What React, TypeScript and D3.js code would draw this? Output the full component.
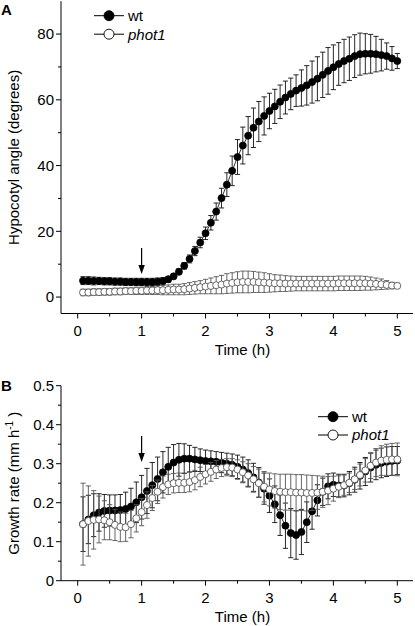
import React from "react";
import * as d3 from "d3";

// sampling times (minutes)
const minutes = [5,10,15,20,25,30,35,40,45,50,55,60,65,70,75,80,85,90,95,100,105,110,115,120,125,130,135,140,145,150,155,160,165,170,175,180,185,190,195,200,205,210,215,220,225,230,235,240,245,250,255,260,265,270,275,280,285,290,295,300];

// Panel A: hypocotyl angle (degrees)
const angleWt = [5.0,5.0,4.9,4.9,4.8,4.8,4.7,4.7,4.6,4.6,4.6,4.6,4.6,4.6,4.7,4.9,5.4,6.3,7.7,9.5,11.6,14.0,16.6,19.4,22.6,26.0,30.1,34.2,38.4,42.6,46.1,49.1,51.5,53.4,55.1,56.6,58.0,59.4,60.7,61.8,62.8,63.6,64.4,65.4,66.4,67.6,68.8,69.9,70.9,71.8,72.5,73.3,73.9,74.0,74.0,73.9,73.6,73.3,72.6,71.8];
const angleWtErr = [1.2,1.2,1.2,1.1,1.1,1.1,1.1,1.1,1.1,1.1,1.1,1.1,1.1,1.1,1.1,1.0,0.9,0.8,0.9,1.0,1.2,1.4,1.6,1.9,2.2,2.6,3.0,3.6,4.5,5.3,5.6,5.8,6.0,6.1,5.8,5.4,5.2,5.1,5.0,4.8,4.8,5.5,6.0,6.4,6.7,6.9,7.1,6.8,6.5,6.6,6.6,6.5,6.4,6.1,5.9,5.4,4.8,4.0,3.6,2.3];
const anglePhot1 = [1.4,1.4,1.5,1.5,1.6,1.6,1.7,1.7,1.8,1.8,1.9,1.9,2.0,2.0,2.1,2.1,2.2,2.3,2.3,2.4,2.6,2.8,3.0,3.2,3.4,3.6,3.8,4.1,4.3,4.5,4.6,4.6,4.6,4.5,4.4,4.3,4.2,4.2,4.1,4.1,4.1,4.1,4.1,4.1,4.1,4.1,4.1,4.1,4.2,4.2,4.2,4.2,4.2,4.2,4.1,4.0,3.9,3.7,3.5,3.4];
const anglePhot1Err = [1.0,1.0,1.0,1.0,1.0,1.0,1.0,1.0,1.0,1.0,1.1,1.1,1.2,1.2,1.3,1.4,1.5,1.6,1.6,1.7,1.8,1.9,2.0,2.2,2.4,2.6,2.8,3.0,3.1,3.2,3.3,3.3,3.2,3.1,3.0,2.8,2.6,2.5,2.4,2.3,2.2,2.2,2.2,2.2,2.2,2.2,2.2,2.2,2.2,2.2,2.2,2.2,2.2,2.1,2.0,1.8,1.6,1.3,1.0,0.8];

// Panel B: growth rate (mm h-1)
const rateWt = [0.145,0.157,0.168,0.175,0.179,0.18,0.18,0.181,0.184,0.19,0.201,0.214,0.23,0.245,0.261,0.278,0.292,0.303,0.31,0.313,0.313,0.311,0.309,0.307,0.306,0.305,0.303,0.3,0.297,0.292,0.285,0.276,0.265,0.252,0.236,0.218,0.196,0.168,0.141,0.122,0.117,0.125,0.15,0.178,0.206,0.228,0.242,0.246,0.244,0.244,0.25,0.259,0.269,0.28,0.29,0.297,0.302,0.305,0.307,0.308];
const rateWtErr = [0.07,0.062,0.055,0.048,0.042,0.04,0.04,0.04,0.043,0.047,0.052,0.056,0.058,0.058,0.056,0.053,0.05,0.046,0.042,0.038,0.034,0.031,0.029,0.028,0.027,0.026,0.026,0.027,0.028,0.03,0.032,0.034,0.036,0.038,0.04,0.043,0.047,0.052,0.058,0.063,0.062,0.058,0.052,0.046,0.04,0.035,0.032,0.03,0.029,0.029,0.03,0.032,0.034,0.036,0.037,0.038,0.038,0.038,0.037,0.036];
const ratePhot1 = [0.145,0.153,0.156,0.157,0.155,0.15,0.143,0.138,0.137,0.145,0.16,0.176,0.194,0.212,0.228,0.24,0.247,0.25,0.251,0.251,0.253,0.258,0.266,0.273,0.279,0.285,0.289,0.291,0.29,0.285,0.278,0.27,0.26,0.25,0.241,0.234,0.23,0.228,0.227,0.227,0.226,0.226,0.225,0.225,0.226,0.228,0.231,0.236,0.241,0.245,0.251,0.26,0.271,0.283,0.295,0.303,0.308,0.31,0.311,0.311];
const ratePhot1Err = [0.105,0.09,0.075,0.06,0.05,0.045,0.04,0.038,0.036,0.035,0.035,0.035,0.034,0.032,0.03,0.028,0.026,0.025,0.025,0.025,0.025,0.025,0.025,0.025,0.024,0.023,0.022,0.022,0.023,0.025,0.027,0.03,0.033,0.036,0.039,0.042,0.044,0.045,0.046,0.046,0.046,0.046,0.046,0.045,0.043,0.04,0.036,0.032,0.028,0.026,0.025,0.026,0.028,0.03,0.033,0.036,0.038,0.04,0.041,0.042];

const xTicks = [0, 1, 2, 3, 4, 5];
const xMinor = [0.5, 1.5, 2.5, 3.5, 4.5];
const angleTicks = [0, 20, 40, 60, 80];
const angleMinor = [10, 30, 50, 70];
const rateTicks = [0, 0.1, 0.2, 0.3, 0.4, 0.5];
const rateMinor = [0.05, 0.15, 0.25, 0.35, 0.45];
const seriesNames = ["wt", "phot1"];
const stimulusTime = 1;

const FONT = "'Liberation Sans', Arial, Helvetica, sans-serif";

const x = d3.scaleLinear().domain([0, 5]).range([77.7, 397.3]);
const AXIS_X0 = 61;
const AXIS_X1 = 413;

type SeriesProps = {
  t: number[];
  v: number[];
  e: number[];
  y: d3.ScaleLinear<number, number>;
  filled: boolean;
};

function Series({ t, v, e, y, filled }: SeriesProps) {
  const line = d3
    .line<number>()
    .x((_, i) => x(t[i]))
    .y((d) => y(d));
  const barColor = filled ? "#111" : "#555";
  return (
    <g>
      <path d={line(v) || ""} fill="none" stroke={filled ? "#000" : "#666"} strokeWidth={0.8} />
      {v.map((d, i) => {
        const cx = x(t[i]);
        const y1 = y(d + e[i]);
        const y2 = y(d - e[i]);
        return (
          <g key={"e" + i} stroke={barColor} strokeWidth={0.9}>
            <line x1={cx} x2={cx} y1={y1} y2={y2} />
            <line x1={cx - 2.6} x2={cx + 2.6} y1={y1} y2={y1} />
            <line x1={cx - 2.6} x2={cx + 2.6} y1={y2} y2={y2} />
          </g>
        );
      })}
      {v.map((d, i) => (
        <circle
          key={"c" + i}
          cx={x(t[i])}
          cy={y(d)}
          r={3.5}
          fill={filled ? "#000" : "#fff"}
          stroke={filled ? "#000" : "#444"}
          strokeWidth={0.8}
        />
      ))}
    </g>
  );
}

type AxesProps = {
  y: d3.ScaleLinear<number, number>;
  yTicks: number[];
  yMinor: number[];
  fmt: (n: number) => string;
  axisY: number;
};

function Axes({ y, yTicks, yMinor, fmt, axisY }: AxesProps) {
  const top = y(y.domain()[1]);
  return (
    <g fontFamily={FONT} fontSize={15} fill="#000">
      <line x1={AXIS_X0} x2={AXIS_X0} y1={top} y2={axisY} stroke="#000" strokeWidth={1} />
      <line x1={AXIS_X0} x2={AXIS_X1} y1={axisY} y2={axisY} stroke="#000" strokeWidth={1} />
      {yTicks.map((tk) => (
        <g key={"yt" + tk}>
          <line x1={AXIS_X0 - 5} x2={AXIS_X0} y1={y(tk)} y2={y(tk)} stroke="#000" />
          <text x={AXIS_X0 - 7} y={y(tk)} dy="0.36em" textAnchor="end">
            {fmt(tk)}
          </text>
        </g>
      ))}
      {yMinor.map((tk) => (
        <line key={"ym" + tk} x1={AXIS_X0 - 3} x2={AXIS_X0} y1={y(tk)} y2={y(tk)} stroke="#000" />
      ))}
      {xTicks.map((tk) => (
        <g key={"xt" + tk}>
          <line x1={x(tk)} x2={x(tk)} y1={axisY} y2={axisY + 5} stroke="#000" />
          <text x={x(tk)} y={axisY + 22} textAnchor="middle">
            {tk}
          </text>
        </g>
      ))}
      {xMinor.map((tk) => (
        <line key={"xm" + tk} x1={x(tk)} x2={x(tk)} y1={axisY} y2={axisY + 3} stroke="#000" />
      ))}
      <text x={(x(0) + x(5)) / 2 + 5} y={axisY + 41} textAnchor="middle">
        Time (h)
      </text>
    </g>
  );
}

function Arrow({ cx, yTop, yTip }: { cx: number; yTop: number; yTip: number }) {
  return (
    <g>
      <line x1={cx} x2={cx} y1={yTop} y2={yTip - 6} stroke="#000" strokeWidth={1.2} />
      <path d={`M${cx - 3.2},${yTip - 9} L${cx + 3.2},${yTip - 9} L${cx},${yTip} Z`} fill="#000" />
    </g>
  );
}

function Legend({ x0, y0, gap }: { x0: number; y0: number; gap: number }) {
  return (
    <g fontFamily={FONT} fontSize={15}>
      {seriesNames.map((name, i) => {
        const yy = y0 + i * gap;
        return (
          <g key={name}>
            <line x1={x0} x2={x0 + 30} y1={yy} y2={yy} stroke="#000" strokeWidth={1} />
            <circle cx={x0 + 15} cy={yy} r={5} fill={i === 0 ? "#000" : "#fff"} stroke="#000" strokeWidth={0.9} />
            <text x={x0 + 34} y={yy} dy="0.36em" fontStyle={i === 0 ? "normal" : "italic"}>
              {name}
            </text>
          </g>
        );
      })}
    </g>
  );
}

export default function App() {
  const t = minutes.map((m) => m / 60);
  const yA = d3.scaleLinear().domain([-5, 90]).range([313.5, 1.2]);
  const yB = d3.scaleLinear().domain([0, 0.5]).range([580.7, 385.7]);
  const axisYA = yA(-5);
  const axisYB = yB(0);

  return (
    <svg
      width={415}
      height={626}
      viewBox="0 0 415 626"
      style={{ position: "absolute", left: 0, top: 0, background: "#fff" }}
    >
      <rect x={0} y={0} width={415} height={626} fill="#fff" />
      {/* Panel A */}
      <text x={1} y={15} fontFamily={FONT} fontSize={15} fontWeight="bold">
        A
      </text>
      <Axes y={yA} yTicks={angleTicks} yMinor={angleMinor} fmt={(n) => String(n)} axisY={axisYA} />
      <text
        transform={`translate(19,${(yA(90) + axisYA) / 2}) rotate(-90)`}
        textAnchor="middle"
        fontFamily={FONT}
        fontSize={15}
      >
        Hypocotyl angle (degrees)
      </text>
      <Series t={t} v={anglePhot1} e={anglePhot1Err} y={yA} filled={false} />
      <Series t={t} v={angleWt} e={angleWtErr} y={yA} filled={true} />
      <Arrow cx={x(stimulusTime)} yTop={248} yTip={274} />
      <Legend x0={94} y0={15.7} gap={18.5} />

      {/* Panel B */}
      <text x={1} y={391} fontFamily={FONT} fontSize={15} fontWeight="bold">
        B
      </text>
      <Axes y={yB} yTicks={rateTicks} yMinor={rateMinor} fmt={(n) => (n === 0 ? "0" : n.toFixed(1))} axisY={axisYB} />
      <text
        transform={`translate(19,${(yB(0.5) + axisYB) / 2}) rotate(-90)`}
        textAnchor="middle"
        fontFamily={FONT}
        fontSize={15}
      >
        Growth rate (mm h
        <tspan fontSize={10} dy={-6}>-1</tspan>
        <tspan dy={6}> )</tspan>
      </text>
      <Series t={t} v={rateWt} e={rateWtErr} y={yB} filled={true} />
      <Series t={t} v={ratePhot1} e={ratePhot1Err} y={yB} filled={false} />
      <Arrow cx={x(stimulusTime)} yTop={436} yTip={462} />
      <Legend x0={318} y0={416.7} gap={18.3} />
    </svg>
  );
}
